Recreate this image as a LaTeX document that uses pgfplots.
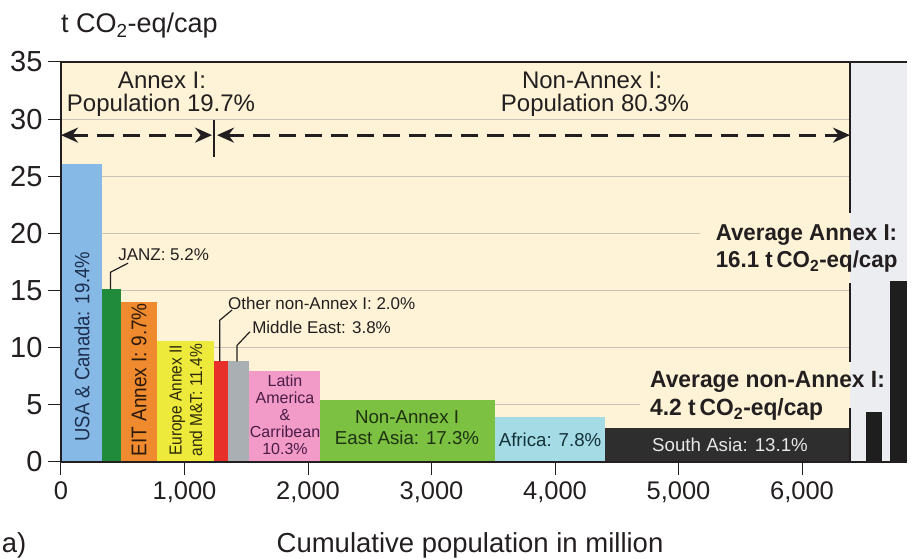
\documentclass[border=0pt]{standalone}
\usepackage{fontspec}
\setmainfont{Liberation Sans}
\newfontfamily\rotfont{Liberation Sans}
\newfontfamily\boldc{Liberation Sans Bold}[FakeStretch=0.97]
\usepackage{pgfplots}
\pgfplotsset{compat=1.18}
\usetikzlibrary{arrows.meta}
\definecolor{beige}{HTML}{FEF3D6}
\definecolor{grayreg}{HTML}{ECEDF0}
\definecolor{gridc}{HTML}{C9C3B3}
\definecolor{cusa}{HTML}{86B9E6}
\definecolor{cjanz}{HTML}{1F8B3B}
\definecolor{ceit}{HTML}{F08A2E}
\definecolor{ceur}{HTML}{EEEA3C}
\definecolor{cother}{HTML}{E8302A}
\definecolor{cme}{HTML}{A9AFB3}
\definecolor{clat}{HTML}{F29BC9}
\definecolor{ceas}{HTML}{7DC143}
\definecolor{cafr}{HTML}{A5DBE5}
\definecolor{csas}{HTML}{2E2E2E}
\definecolor{cavg}{HTML}{1E1E1E}
\definecolor{txt}{HTML}{231F20}
\definecolor{tusa}{HTML}{1D2F4F}
\definecolor{teit}{HTML}{2B1A0A}
\definecolor{teur}{HTML}{2E2A0A}
\definecolor{tlat}{HTML}{4B1C45}
\definecolor{teas}{HTML}{1C3210}
\definecolor{tafr}{HTML}{13323A}
\definecolor{tsas}{HTML}{E8E8E8}
\newcommand{\fs}[1]{\fontsize{#1}{#1}\selectfont}
\begin{document}
\begin{tikzpicture}
\begin{axis}[
  at={(0,0)}, anchor=south west,
  scale only axis, width=846pt, height=400pt,
  xmin=0, xmax=6850, ymin=0, ymax=35,
  axis x line*=bottom, axis y line*=left,
  axis line style={line width=1.2pt, color=txt},
  xtick={0,1000,...,6000}, ytick={0,5,...,35},
  scaled x ticks=false,
  tick align=outside, major tick length=13pt,
  tick style={line width=1pt, color=txt},
  /pgf/number format/assume math mode=true,
  /pgf/number format/1000 sep={,},
  xticklabel style={font=\fs{25.5}, text=txt, yshift=-3pt},
  yticklabel style={font=\fs{29}, text=txt, xshift=-2pt},
  clip=false, axis on top,
]
% backgrounds
\fill[beige] (axis cs:0,0) rectangle (axis cs:6389,35);
\fill[grayreg] (axis cs:6389,0) rectangle (axis cs:6850,35);
% grid lines
\draw[gridc, line width=1pt] (axis cs:0,10) -- (axis cs:6389,10);
\draw[gridc, line width=1pt] (axis cs:0,15) -- (axis cs:6389,15);
\draw[gridc, line width=1pt] (axis cs:0,25) -- (axis cs:6389,25);
\draw[gridc, line width=1pt] (axis cs:0,30) -- (axis cs:6389,30);
\draw[gridc, line width=1pt] (axis cs:0,20) -- (axis cs:5174,20);
\draw[gridc, line width=1pt] (axis cs:0,5) -- (axis cs:4688,5);
% bars
\addplot[ybar interval, fill=cusa, draw=none] coordinates {(0,26.1) (332,26.1)};
\addplot[ybar interval, fill=cjanz, draw=none] coordinates {(332,15.1) (486,15.1)};
\addplot[ybar interval, fill=ceit, draw=none] coordinates {(486,14.0) (777,14.0)};
\addplot[ybar interval, fill=ceur, draw=none] coordinates {(777,10.6) (1235,10.6)};
\addplot[ybar interval, fill=cother, draw=none] coordinates {(1235,8.8) (1356,8.8)};
\addplot[ybar interval, fill=cme, draw=none] coordinates {(1356,8.8) (1522,8.8)};
\addplot[ybar interval, fill=clat, draw=none] coordinates {(1522,8.0) (2095,8.0)};
\addplot[ybar interval, fill=ceas, draw=none] coordinates {(2095,5.4) (3512,5.4)};
\addplot[ybar interval, fill=cafr, draw=none] coordinates {(3512,3.9) (4405,3.9)};
\addplot[ybar interval, fill=csas, draw=none] coordinates {(4405,3.0) (6389,3.0)};
\addplot[ybar interval, fill=cavg, draw=none] coordinates {(6518,4.4) (6648,4.4)};
\addplot[ybar interval, fill=cavg, draw=none] coordinates {(6713,15.8) (6850,15.8)};
% boundary line and top border
\draw[txt, line width=1.2pt] (axis cs:0,35) -- (axis cs:6850,35);
\draw[txt, line width=1.2pt] (axis cs:6389,0) -- (axis cs:6389,4.7);
\draw[txt, line width=1.2pt] (axis cs:6389,8.75) -- (axis cs:6389,15.66);
\draw[txt, line width=1.2pt] (axis cs:6389,21.8) -- (axis cs:6389,35);
% population arrows
\draw[txt, line width=2.8pt, dash pattern=on 17pt off 9pt, {Stealth[length=17pt,width=15pt]}-{Stealth[length=17pt,width=15pt]}] (axis cs:0,28.6) -- (axis cs:1223,28.6);
\draw[txt, line width=2.8pt, dash pattern=on 17pt off 9pt, {Stealth[length=17pt,width=15pt]}-{Stealth[length=17pt,width=15pt]}] (axis cs:1263,28.6) -- (axis cs:6389,28.6);
\draw[txt, line width=1.2pt] (axis cs:1239,26.7) -- (axis cs:1239,29.9);
\node[font=\fs{24}, text=txt] at (axis cs:818,33.4) {Annex I:};
\node[font=\fs{24}, text=txt] at (axis cs:810,31.2) {Population 19.7\%};
\node[font=\fs{24}, text=txt] at (axis cs:4300,33.4) {Non-Annex I:};
\node[font=\fs{24}, text=txt] at (axis cs:4324,31.2) {Population 80.3\%};
% leader lines
\draw[txt, line width=1.2pt] (axis cs:400,15.1) -- (axis cs:400,16.6) -- (axis cs:543,17.4);
\draw[txt, line width=1.2pt] (axis cs:1285,8.8) -- (axis cs:1285,12.4) -- (axis cs:1385,13.3);
\draw[txt, line width=1.2pt] (axis cs:1425,8.8) -- (axis cs:1425,10.2) -- (axis cs:1530,11.4);
% bar labels
\node[rotate=90, yscale=1.12, font=\fs{18.5}, text=tusa] at (axis cs:170,10.1) {USA \& Canada: 19.4\%};
\node[anchor=west, font=\fs{17}, text=txt, inner sep=0pt] at (axis cs:462,18.1) {JANZ: 5.2\%};
\node[rotate=90, yscale=1.12, font=\fs{19}, text=teit] at (axis cs:632,7.2) {EIT Annex I: 9.7\%};
\node[rotate=90, yscale=1.12, font=\fs{15.5}, text=teur, align=center, inner sep=0pt] at (axis cs:1012,5.4) {Europe Annex II\\[3pt]and M\&T: 11.4\%};
\node[anchor=west, font=\fs{17}, text=txt, inner sep=0pt] at (axis cs:1352,13.9) {Other non-Annex I: 2.0\%};
\node[anchor=west, font=\fs{17}, text=txt, inner sep=0pt] at (axis cs:1547,11.8) {Middle East: 3.8\%};
\node[font=\fs{16}, text=tlat, align=center, inner sep=0pt] at (axis cs:1814,4.1) {Latin\\[1pt]America\\[1pt]\&\\[1pt]Carribean\\[1pt]10.3\%};
\node[font=\fs{18.7}, text=teas, align=center, inner sep=0pt] at (axis cs:2802,3.0) {Non-Annex I\\[3pt]East Asia: 17.3\%};
\node[font=\fs{18.7}, text=tafr, inner sep=0pt] at (axis cs:3960,1.9) {Africa: 7.8\%};
\node[font=\fs{18.7}, text=tsas, inner sep=0pt] at (axis cs:5417,1.5) {South Asia: 13.1\%};
% averages
\node[anchor=west, font=\boldc\fs{23}, text=txt, inner sep=0pt] at (axis cs:5300,19.9) {Average Annex I:};
\node[anchor=west, font=\boldc\fs{23}, text=txt, inner sep=0pt] at (axis cs:5300,17.5) {16.1 t\,CO\textsubscript{2}-eq/cap};
\node[anchor=west, font=\boldc\fs{23.5}, text=txt, inner sep=0pt] at (axis cs:4769,7.0) {Average non-Annex I:};
\node[anchor=west, font=\boldc\fs{23.5}, text=txt, inner sep=0pt] at (axis cs:4769,4.6) {4.2 t\,CO\textsubscript{2}-eq/cap};
% axis titles
\node[anchor=base west, font=\fs{27}, text=txt, inner sep=0pt, yshift=29pt] at (axis cs:0,35) {t CO\textsubscript{2}-eq/cap};
\node[font=\fs{27.5}, text=txt, inner sep=0pt, yshift=-83pt] at (axis cs:3312,0) {Cumulative population in million};
\node[font=\fs{27.5}, text=txt, inner sep=0pt, yshift=-83pt, xshift=-47pt] at (axis cs:0,0) {a)};
\end{axis}
\pgfresetboundingbox
\path[use as bounding box] (-61pt,-97pt) rectangle (850pt,462pt);
\end{tikzpicture}
\end{document}
